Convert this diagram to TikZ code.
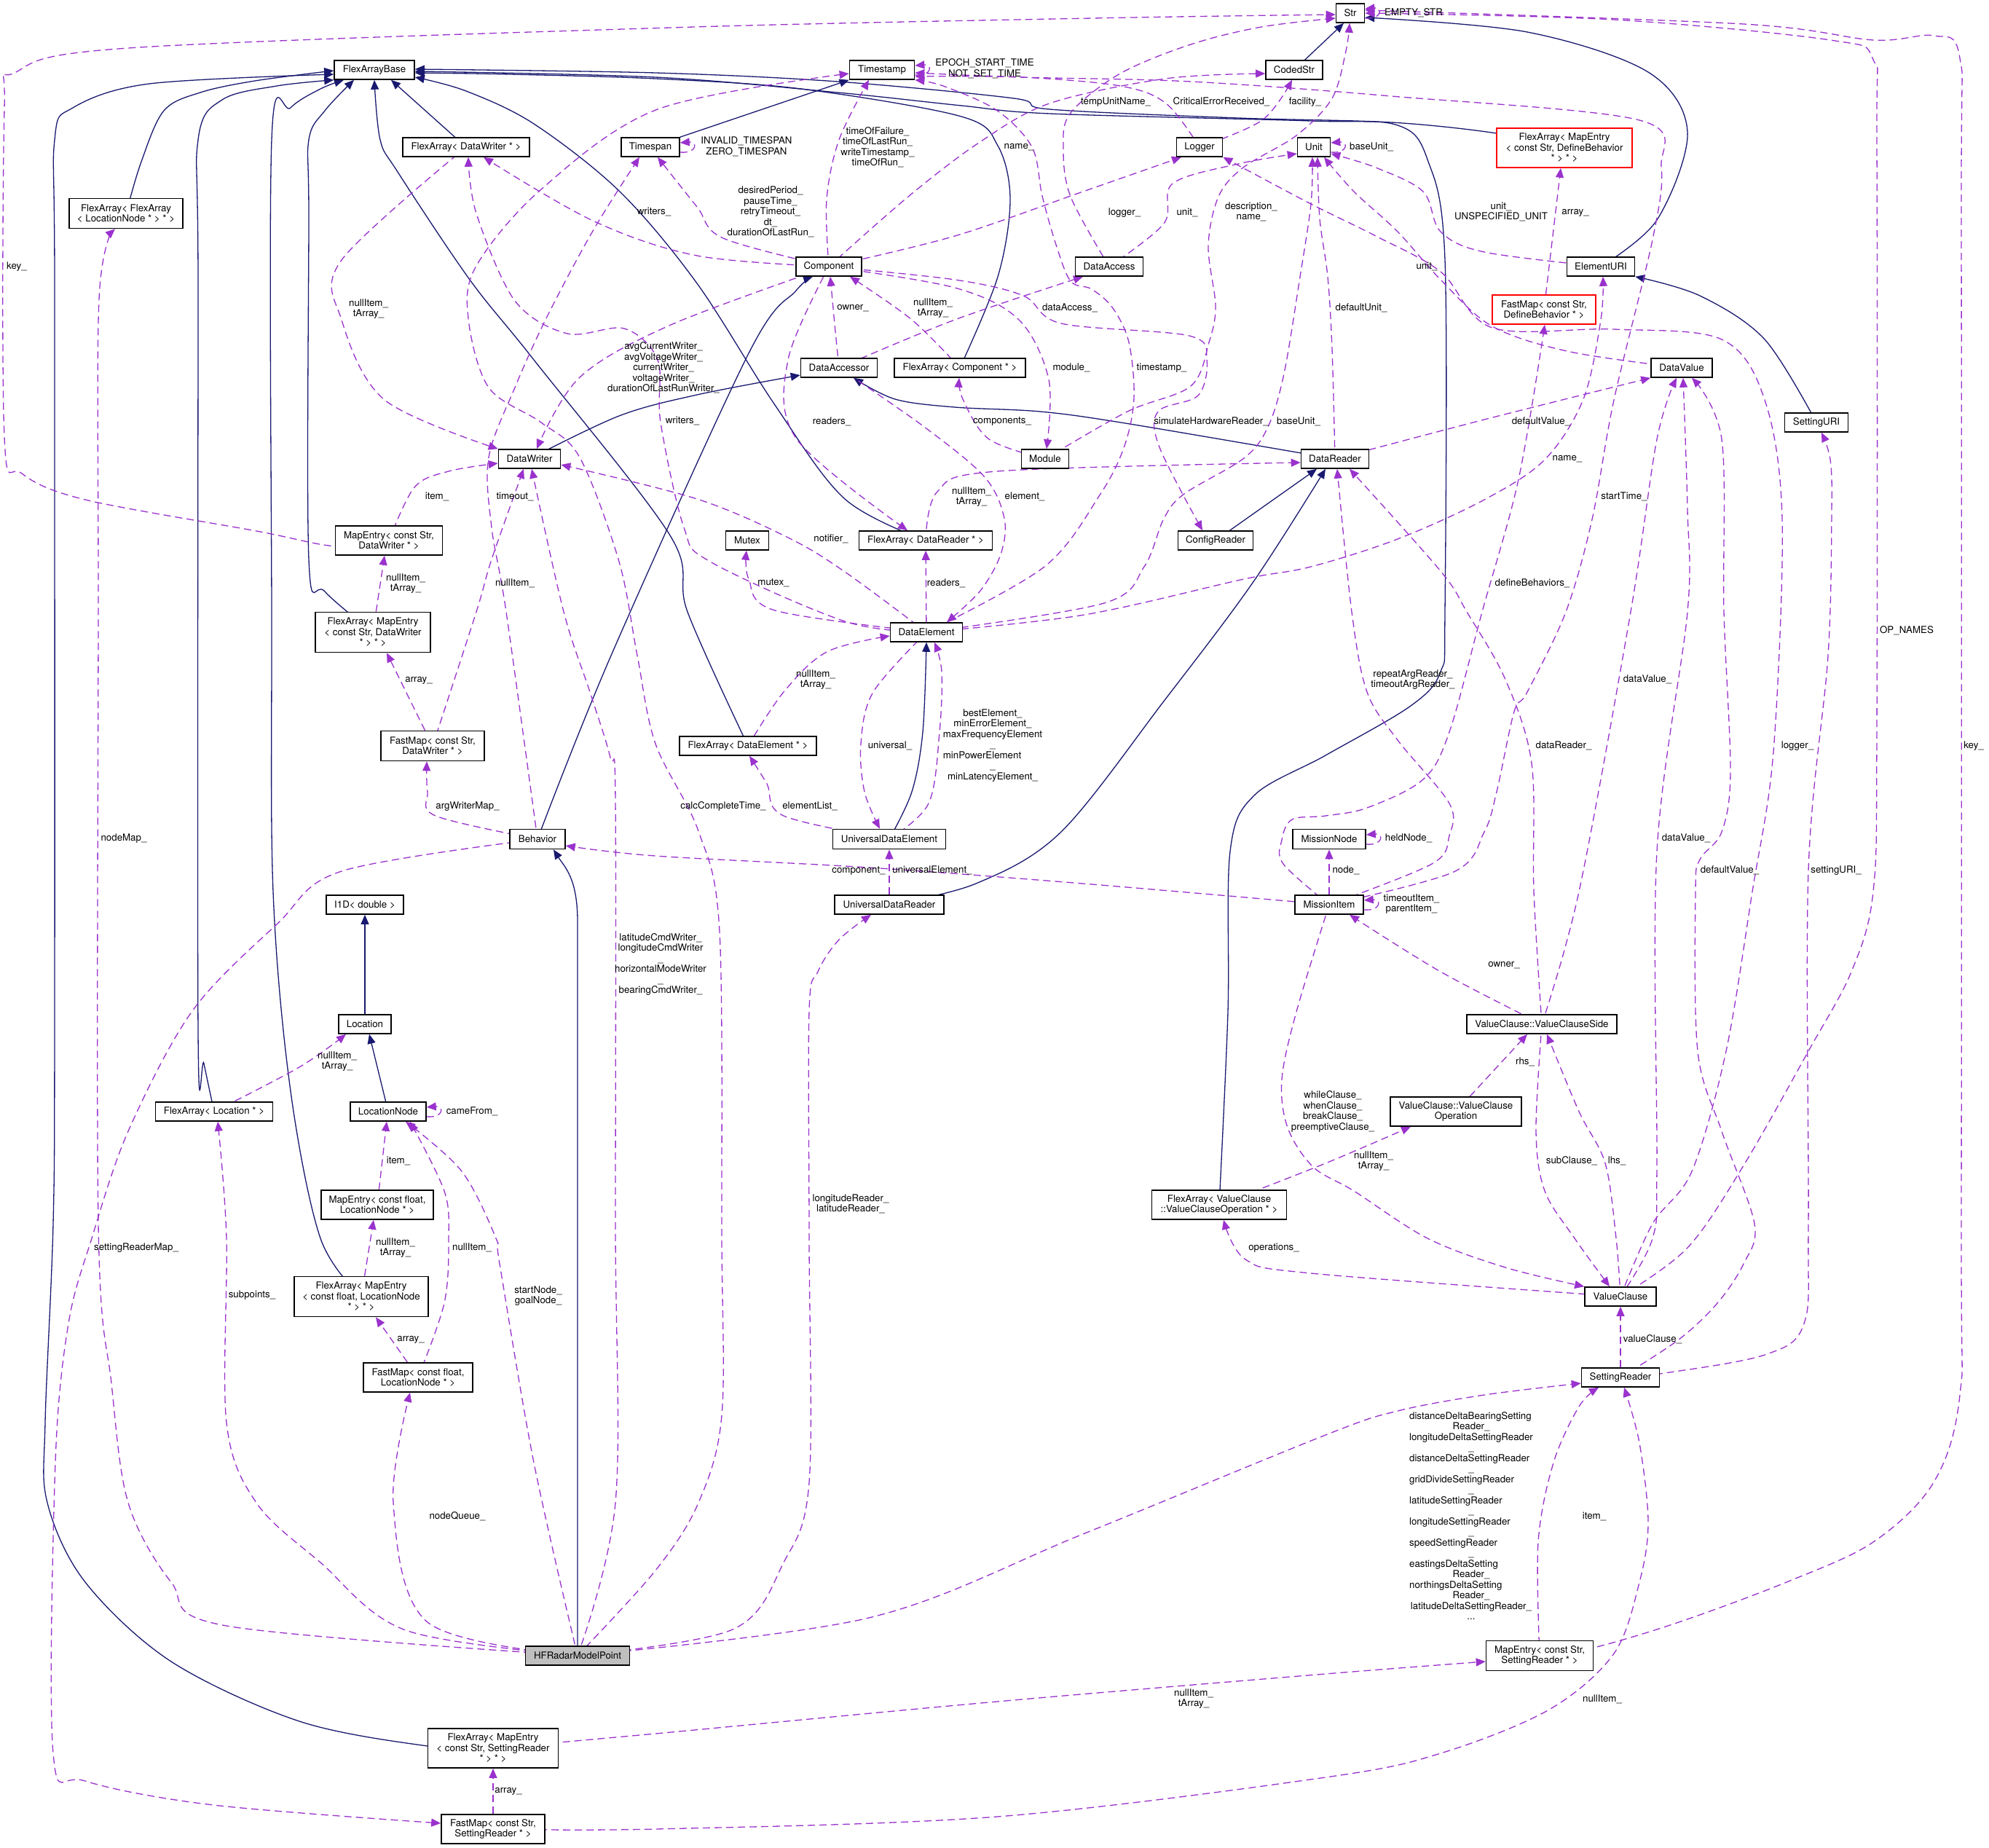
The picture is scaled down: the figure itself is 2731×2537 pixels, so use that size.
\documentclass[tikz,border=0pt]{standalone}
\usepackage{fontspec}
\setmainfont{TeX Gyre Heros}
\usetikzlibrary{arrows.meta}
\pgfdeclarelayer{background}
\pgfsetlayers{background,main}
\definecolor{edgeblue}{HTML}{191970}
\definecolor{edgepurple}{HTML}{9A32CD}
\definecolor{boxgray}{HTML}{BFBFBF}
\newcommand\nodefont{\fontsize{6.65pt}{7.25pt}\selectfont}
\newcommand\mybox[5]{\node[box,minimum width=#3*0.5pt,minimum height=#4*0.5pt] (#1) at (#2) {#5};}
\newcommand\lbl[3]{\node[lab] (#1) at (#2) {#3};}
\newcommand\pe[2]{\draw[#1] plot[smooth,tension=0.55] coordinates {#2};}
\newcommand\sloop[1]{\draw[use] ([yshift=-3.5pt]#1.east) .. controls +(12pt,-1pt) and +(12pt,1pt) .. ([yshift=3pt]#1.east);}
\begin{document}
\begin{tikzpicture}[x=0.5pt,y=-0.5pt,
 box/.style={draw=black,line width=0.8pt,fill=white,inner sep=0pt,align=center,font=\nodefont},
 lab/.style={inner sep=0pt,align=center,font=\nodefont},
 inh/.style={draw=edgeblue,line width=0.65pt,-{Triangle[length=6.5pt,width=5.5pt]}},
 use/.style={draw=edgepurple,line width=0.65pt,dash pattern=on 5pt off 3pt,-{Triangle[length=6.5pt,width=5.5pt]}}]
\useasboundingbox (0,0) rectangle (2731,2537);

% ---------- class boxes ----------
\mybox{str}{1854,18}{39}{26}{Str}
\mybox{fab}{514,96}{110}{26}{FlexArrayBase}
\mybox{tstamp}{1211,96}{89}{26}{Timestamp}
\mybox{codedstr}{1777,96}{78}{26}{CodedStr}
\mybox{fadw}{640,202}{174}{26}{FlexArray< DataWriter * >}
\mybox{tspan}{893,202}{80}{26}{Timespan}
\mybox{logger}{1647,202}{63}{26}{Logger}
\mybox{unit}{1804,202}{45}{26}{Unit}
\node[box,draw=red,minimum width=186*0.5pt,minimum height=54*0.5pt] (fadb) at (2148,203) {FlexArray< MapEntry\\< const Str, DefineBehavior\\ * > * >};
\mybox{faflf}{173,293}{156}{41}{FlexArray< FlexArray\\< LocationNode * > * >}
\mybox{comp}{1138,366}{90}{26}{Component}
\mybox{daccess}{1523,366}{93}{26}{DataAccess}
\mybox{euri}{2198,366}{93}{26}{ElementURI}
\node[box,draw=red,minimum width=142*0.5pt,minimum height=40*0.5pt] (fmdb) at (2120,425) {FastMap< const Str,\\ DefineBehavior * >};
\mybox{daccessor}{1152,505}{105}{26}{DataAccessor}
\mybox{facomp}{1318,505}{180}{26}{FlexArray< Component * >}
\mybox{dvalue}{2309,505}{84}{26}{DataValue}
\mybox{suri}{2494,580}{87}{26}{SettingURI}
\mybox{dwriter}{727,630}{85}{26}{DataWriter}
\mybox{module}{1435,630}{65}{26}{Module}
\mybox{dreader}{1833,630}{93}{26}{DataReader}
\mybox{medw}{534,742}{147}{40}{MapEntry< const Str,\\ DataWriter * >}
\mybox{mutex}{1026,742}{59}{26}{Mutex}
\mybox{fadr}{1271,742}{183}{26}{FlexArray< DataReader * >}
\mybox{creader}{1669,742}{103}{26}{ConfigReader}
\mybox{famedw}{512,868}{158}{55}{FlexArray< MapEntry\\< const Str, DataWriter\\ * > * >}
\mybox{delem}{1272,868}{99}{26}{DataElement}
\mybox{fmdw}{594,1024}{142}{41}{FastMap< const Str,\\ DataWriter * >}
\mybox{fade}{1027,1024}{188}{26}{FlexArray< DataElement * >}
\mybox{behavior}{738,1152}{76}{27}{Behavior}
\mybox{ude}{1221,1152}{155}{27}{UniversalDataElement}
\mybox{mnode}{1825,1152}{100}{27}{MissionNode}
\mybox{i1d}{501,1242}{106}{26}{I1D< double >}
\mybox{udr}{1221,1242}{150}{26}{UniversalDataReader}
\mybox{mitem}{1825,1242}{94}{26}{MissionItem}
\mybox{location}{501,1406}{72}{26}{Location}
\mybox{vcs}{2117,1406}{206}{26}{ValueClause::ValueClauseSide}
\mybox{faloc}{294,1526}{161}{26}{FlexArray< Location * >}
\mybox{lnode}{533,1526}{104}{26}{LocationNode}
\mybox{vco}{1999,1526}{180}{40}{ValueClause::ValueClause\\Operation}
\mybox{melf}{518,1654}{154}{40}{MapEntry< const float,\\ LocationNode * >}
\mybox{favco}{1674,1654}{185}{40}{FlexArray< ValueClause\\::ValueClauseOperation * >}
\mybox{famelf}{496,1780}{184}{55}{FlexArray< MapEntry\\< const float, LocationNode\\ * > * >}
\mybox{vclause}{2225,1780}{98}{26}{ValueClause}
\mybox{fmflf}{574,1891}{150}{40}{FastMap< const float,\\ LocationNode * >}
\mybox{sreader}{2225,1891}{107}{26}{SettingReader}
\node[box,fill=boxgray,minimum width=143*0.5pt,minimum height=26*0.5pt] (hfr) at (793,2273) {HFRadarModelPoint};
\mybox{mesr}{2114,2273}{147}{41}{MapEntry< const Str,\\ SettingReader * >}
\mybox{famesr}{677,2400}{179}{54}{FlexArray< MapEntry\\< const Str, SettingReader\\ * > * >}
\mybox{fmsr}{677,2511}{142}{40}{FastMap< const Str,\\ SettingReader * >}

\begin{pgfonlayer}{background}
\fill[white] (0,0) rectangle (2731,2537);
% ---------- inheritance edges ----------
\pe{inh}{(faflf) (194,222) (225,152) (275,127) (350,111) (fab.west |- 0,97)}
\pe{inh}{(famesr) (587,2397) (411,2363) (235,2281) (117,2172) (65,2063) (62,1953) (73,1680) (75,1400) (75,400) (75,192) (100,148) (205,115) (fab.west |- 0,102)}
\pe{inh}{(faloc) (280,1460) (272,1416) (272,400) (272,192) (305,137) (380,118) (fab.south west)}
\pe{inh}{(famelf) (440,1700) (399,1498) (375,1224) (373,840) (373,192) (399,148) (440,122) (fab.south -| 472,0)}
\pe{inh}{(famedw) (446,812) (424,768) (424,300) (424,192) (446,152) (fab.south -| 486,0)}
\pe{inh}{(fade) (944,840) (920,735) (733,494) (645,384) (546,236) (522,192) (fab.south -| 514,0)}
\draw[inh] (fadw) -- (fab.south -| 537,0);
\pe{inh}{(fadr) (1160,685) (1064,556) (957,389) (851,263) (733,170) (640,125) (fab.east |- 0,106)}
\pe{inh}{(facomp) (1370,380) (1387,274) (1370,200) (1320,160) (1100,122) (900,108) (700,102) (fab.east |- 0,100)}
\pe{inh}{(fadb) (2055,183) (1910,168) (1700,162) (1441,150) (1392,135) (1150,112) (900,100) (fab.east |- 0,95)}
\pe{inh}{(favco) (1686,1389) (1689,1169) (1722,1092) (1820,1037) (1937,969) (1978,922) (1984,840) (1984,357) (1960,219) (1919,172) (1800,166) (1441,156) (1320,145) (1150,127) (900,106) (fab.east |- 0,98)}
\draw[inh] (tspan) -- (tstamp.south west);
\draw[inh] (codedstr) -- (str.south -| 1845,0);
\pe{inh}{(euri) (2275,302) (2317,181) (2263,99) (2097,44) (str.east |- 0,24)}
\pe{inh}{(suri) (2423,466) (2334,406) (euri.south east)}
\pe{inh}{(dwriter) (850,571) (957,542) (daccessor.west |- 0,515)}
\pe{inh}{(dreader) (1545,581) (1428,565) (1311,559) (1229,548) (daccessor.south -| 1172,0)}
\pe{inh}{(behavior) (839,900) (1028,485) (1093,399) (comp.south -| 1116,0)}
\pe{inh}{(ude) (1252,1087) (1267,1005) (delem.south -| 1272,0)}
\pe{inh}{(udr) (1340,1213) (1457,1142) (1600,960) (1720,800) (dreader.south -| 1820,0)}
\draw[inh] (creader) -- (dreader.south -| 1808,0);
\draw[inh] (location) -- (i1d);
\draw[inh] (lnode) -- (location.south -| 507,0);
\draw[inh] (hfr.north -| 793,0) -- (793,1265) .. controls (793,1205) and (775,1190) .. (behavior.south -| 760,0);

% ---------- usage edges ----------
\pe{use}{(medw) (461,750) (352,729) (117,686) (30,650) (6,600) (6,150) (20,100) (176,66) (920,38) (1500,25) (str.west |- 0,20)}
\pe{use}{(comp) (957,351) (814,303) (fadw.south -| 664,0)}
\pe{use}{(comp) (993,327) (957,284) (tspan.south -| 903,0)}
\pe{use}{(comp) (921,446) (796,518) (dwriter.north -| 737,0)}
\pe{use}{(comp) (1135,274) (1152,192) (tstamp.south -| 1193,0)}
\pe{use}{(comp) (1247,270) (1344,196) (1441,142) (1600,108) (codedstr.west |- 0,101)}
\pe{use}{(comp) (1311,324) (1487,263) (logger.south -| 1622,0)}
\pe{use}{(comp) (1311,395) (1399,439) (1440,521) (module.north -| 1437,0)}
\pe{use}{(comp) (1311,384) (1405,406) (1457,444) (1633,461) (1657,494) (1645,543) (1590,565) (1592,614) (creader.north -| 1651,0)}
\pe{use}{(comp) (1082,494) (1094,603) (fadr.north -| 1246,0)}
\pe{use}{(daccessor) (1146,445) (comp.south -| 1140,0)}
\pe{use}{(facomp) (1252,439) (comp.south -| 1167,0)}
\pe{use}{(daccessor) (1311,439) (daccess.south -| 1487,0)}
\pe{use}{(module) (1358,603) (1322,548) (facomp.south -| 1317,0)}
\pe{use}{(module) (1548,565) (1635,530) (1660,470) (1669,420) (1659,338) (1673,270) (1707,230) (1780,186) (1829,135) (1848,70) (str.south -| 1853,0)}
\pe{use}{(daccess) (1470,270) (1460,203) (1470,155) (1538,101) (1635,61) (1732,37) (str.west |- 0,25)}
\pe{use}{(daccess) (1598,307) (1610,252) (1700,225) (unit.west |- 0,211)}
\pe{use}{(logger) (1601,142) (1538,118) (1402,106) (tstamp.east |- 0,105)}
\pe{use}{(logger) (1733,165) (codedstr.south -| 1774,0)}
\pe{use}{(delem) (1434,778) (1511,678) (1544,612) (1557,546) (1550,470) (1528,423) (1499,397) (1470,386) (1450,336) (1431,269) (1417,202) (1368,151) (1295,118) (tstamp.south east)}
\pe{use}{(delem) (1516,828) (1571,778) (1598,712) (1626,678) (1708,629) (1741,586) (1763,513) (1785,380) (1800,280) (unit.south -| 1802,0)}
\pe{use}{(dreader) (1829,479) (1823,380) (1812,300) (unit.south -| 1809,0)}
\pe{use}{(dvalue) (2156,483) (2049,448) (1978,384) (1919,318) (1859,263) (unit.south -| 1818,0)}
\pe{use}{(euri) (2038,346) (1978,318) (1954,263) (1889,230) (unit.east |- 0,211)}
\pe{use}{(dreader) (2038,576) (dvalue.south west)}
\draw[use] (fmdb) -- (fadb.south -| 2143,0);
\pe{use}{(vclause) (2269,1680) (2323,1608) (2370,1443) (2406,1224) (2435,1032) (2447,713) (2423,549) (2364,466) (2216,452) (2049,450) (1978,373) (1889,324) (1800,280) (logger.south east)}
\pe{use}{(vclause) (2317,1713) (2394,1600) (2483,1443) (2542,1334) (2572,1224) (2577,1000) (2577,200) (2572,82) (2513,55) (2216,27) (str.east |- 0,18)}
\pe{use}{(mesr) (2188,2262) (2305,2227) (2453,2172) (2572,2117) (2655,2035) (2691,1915) (2693,1680) (2693,300) (2691,80) (2655,49) (2572,55) (2394,33) (str.east |- 0,14)}
\pe{use}{(sreader) (2279,1886) (2423,1860) (2477,1817) (2483,1680) (2483,1195) (2510,900) (2515,700) (2513,631) (suri.south -| 2501,0)}
\pe{use}{(sreader) (2305,1839) (2358,1789) (2394,1735) (2409,1680) (2364,1553) (2331,1443) (2328,1224) (2334,1180) (2364,1142) (2376,1059) (2367,840) (2364,603) (dvalue.south -| 2323,0)}
\pe{use}{(vclause) (2269,1700) (2275,1600) (2275,1169) (2317,840) (2317,700) (dvalue.south -| 2311,0)}
\pe{use}{(vcs) (2168,1224) (2239,840) (2275,603) (dvalue.south -| 2302,0)}
\pe{use}{(vcs) (2106,1224) (2103,1048) (2067,933) (2014,840) (1978,784) (dreader.south -| 1853,0)}
\pe{use}{(vcs) (1978,1334) (mitem.south -| 1853,0)}
\pe{use}{(mitem) (1966,1186) (1990,1147) (1990,1103) (1919,1016) (1877,950) (1856,840) (dreader.south -| 1836,0)}
\pe{use}{(mitem) (1996,1197) (2038,1142) (2055,1087) (2079,977) (2097,950) (2150,840) (2186,713) (2216,549) (2269,329) (2281,230) (2251,165) (1910,132) (1635,112) (1402,106) (tstamp.east |- 0,100)}
\pe{use}{(mitem) (1762,1186) (1760,1153) (1774,1125) (1820,1120) (1877,1109) (1954,1070) (1990,1005) (2035,840) (2085,658) (fmdb.south -| 2121,0)}
\pe{use}{(delem) (1489,844) (1708,795) (1800,778) (1919,740) (2038,686) (2121,631) (2174,548) (2198,439) (euri.south -| 2201,0)}
\pe{use}{(mitem) (1780,1389) (1760,1482) (1768,1548) (1803,1602) (1859,1635) (1960,1700) (2067,1740) (vclause.north west)}
\pe{use}{(favco) (1820,1597) (vco.south -| 1937,0)}
\draw[use] (vco) -- (vcs.south -| 2097,0);
\pe{use}{(vclause) (2219,1700) (2204,1597) (2168,1526) (vcs.south -| 2124,0)}
\pe{use}{(vcs) (2109,1553) (2121,1635) (2162,1700) (vclause.north -| 2210,0)}
\pe{use}{(vclause) (1800,1748) (1710,1729) (favco.south -| 1680,0)}
\draw[use] (mitem) -- (mnode);
\pe{use}{(mitem) (1487,1213) (1193,1191) (900,1175) (behavior.east |- 0,1161)}
\draw[use] (udr) -- (ude);
\pe{use}{(ude) (1076,1120) (1053,1076) (fade.south -| 1029,0)}
\pe{use}{(delem) (1199,950) (1182,1021) (1187,1087) (ude.north -| 1208,0)}
\pe{use}{(ude) (1275,1103) (1290,1005) (1293,922) (delem.south -| 1283,0)}
\pe{use}{(fade) (1076,950) (1135,895) (delem.west |- 0,873)}
\draw[use] (delem) -- (fadr);
\pe{use}{(delem) (1064,838) (1028,795) (mutex.south -| 1025,0)}
\pe{use}{(delem) (1160,785) (1082,738) (957,685) (dwriter.east |- 0,638)}
\pe{use}{(delem) (1160,853) (975,771) (939,724) (907,580) (903,494) (857,451) (779,458) (707,413) (654,293) (fadw.south -| 643,0)}
\pe{use}{(daccessor) (1269,586) (1352,655) (1379,712) (1374,761) (1346,811) (delem.north -| 1300,0)}
\pe{use}{(fadr) (1287,675) (1369,647) (dreader.west |- 0,635)}
\pe{use}{(fadw) (469,357) (469,439) (528,549) (dwriter.north west)}
\pe{use}{(medw) (569,669) (616,647) (dwriter.west |- 0,636)}
\pe{use}{(fmdw) (654,840) (675,768) (dwriter.south -| 719,0)}
\pe{use}{(hfr) (845,2063) (845,1680) (845,1100) (838,1040) (810,950) (774,840) (dwriter.south -| 730,0)}
\pe{use}{(behavior) (695,840) (675,724) (671,628) (707,532) (750,437) (814,317) (tspan.south -| 878,0)}
\pe{use}{(behavior) (598,1120) (587,1087) (fmdw.south -| 586,0)}
\pe{use}{(behavior) (469,1196) (381,1268) (264,1388) (176,1553) (126,1700) (94,1817) (76,2008) (73,2407) (117,2445) (293,2478) (fmsr.west |- 0,2503)}
\draw[use] (fmdw) -- (famedw.south -| 531,0);
\draw[use] (famedw) -- (medw.south -| 528,0);
\pe{use}{(faloc) (411,1465) (location.south -| 475,0)}
\draw[use] (melf) -- (lnode.south -| 531,0);
\draw[use] (famelf) -- (melf.south -| 513,0);
\draw[use] (fmflf) -- (famelf.south -| 516,0);
\pe{use}{(fmflf) (610,1789) (616,1700) (610,1635) (lnode.south -| 563,0)}
\pe{use}{(hfr) (733,2008) (686,1735) (681,1700) (634,1608) (lnode.south -| 557,0)}
\pe{use}{(hfr) (587,2227) (540,2063) (fmflf.south -| 563,0)}
\pe{use}{(hfr) (557,2238) (440,2145) (352,2063) (311,1953) (311,1700) (faloc.south -| 299,0)}
\pe{use}{(hfr) (311,2232) (235,2172) (176,2063) (153,1899) (135,1680) (135,840) (136,411) (faflf.south -| 158,0)}
\pe{use}{(hfr) (900,2156) (959,2063) (991,1943) (991,1700) (988,1279) (959,1141) (900,1021) (875,900) (850,771) (796,628) (743,580) (671,532) (643,437) (654,365) (743,260) (903,150) (tstamp.west |- 0,101)}
\pe{use}{(hfr) (1006,2237) (1076,2145) (1111,2035) (1111,1700) (1111,1388) (1123,1334) (1152,1290) (udr.south -| 1196,0)}
\pe{use}{(hfr) (1193,2221) (1487,2106) (1820,1970) (1919,1937) (2038,1915) (sreader.west |- 0,1899)}
\pe{use}{(famesr) (900,2380) (1369,2336) (1820,2298) (mesr.west |- 0,2281)}
\draw[use] (fmsr) -- (famesr);
\pe{use}{(fmsr) (900,2511) (1369,2494) (1820,2440) (1978,2407) (2127,2347) (2216,2270) (2251,2172) (2263,2090) (2251,1981) (sreader.south -| 2230,0)}
\pe{use}{(mesr) (2112,2117) (2133,2008) (2168,1931) (sreader.south -| 2195,0)}
\draw[use] (sreader) -- (vclause);

% self loops
\sloop{str}
\sloop{tstamp}
\sloop{tspan}
\sloop{unit}
\sloop{lnode}
\sloop{mnode}
\sloop{mitem}
\end{pgfonlayer}

% ---------- labels ----------
\lbl{lEmpty}{1941,18}{EMPTY\_STR}
\lbl{lEpoch}{1352,94}{EPOCH\_START\_TIME\\NOT\_SET\_TIME}
\lbl{lInv}{1025,201}{INVALID\_TIMESPAN\\ZERO\_TIMESPAN}
\lbl{lBu}{1883,202}{baseUnit\_}
\lbl{lCf}{648,1526}{cameFrom\_}
\lbl{lHn}{1934,1151}{heldNode\_}
\lbl{lTi}{1938,1241}{timeoutItem\_\\parentItem\_}
\lbl{lKey1}{23,366}{key\_}
\lbl{lFadwNull}{506,424}{nullItem\_\\tArray\_}
\lbl{lWriters1}{898,291}{writers\_}
\lbl{lItem1}{600,682}{item\_}
\lbl{lTimeout}{707,682}{timeout\_}
\lbl{lNull1}{707,801}{nullItem\_}
\lbl{lMedwNull}{557,801}{nullItem\_\\tArray\_}
\lbl{lAvg}{911,505}{avgCurrentWriter\_\\avgVoltageWriter\_\\currentWriter\_\\voltageWriter\_\\durationOfLastRunWriter\_}
\lbl{lWriters2}{937,578}{writers\_}
\lbl{lNotifier}{1141,740}{notifier\_}
\lbl{lMutex}{1062,800}{mutex\_}
\lbl{lDesired}{1058,291}{desiredPeriod\_\\pauseTime\_\\retryTimeout\_\\dt\_\\durationOfLastRun\_}
\lbl{lTimeOf}{1205,202}{timeOfFailure\_\\timeOfLastRun\_\\writeTimestamp\_\\timeOfRun\_}
\lbl{lName1}{1399,202}{name\_}
\lbl{lTemp}{1532,140}{tempUnitName\_}
\lbl{lCrit}{1677,140}{CriticalErrorReceived\_}
\lbl{lFac}{1792,140}{facility\_}
\lbl{lLogger1}{1544,292}{logger\_}
\lbl{lUnit1}{1630,292}{unit\_}
\lbl{lDesc}{1718,291}{description\_\\name\_}
\lbl{lOwner1}{1171,423}{owner\_}
\lbl{lFcNull}{1281,423}{nullItem\_\\tArray\_}
\lbl{lDa}{1469,423}{dataAccess\_}
\lbl{lModule}{1471,505}{module\_}
\lbl{lTs}{1595,505}{timestamp\_}
\lbl{lReaders1}{1142,579}{readers\_}
\lbl{lComps}{1376,579}{components\_}
\lbl{lSim}{1663,579}{simulateHardwareReader\_}
\lbl{lBu2}{1783,579}{baseUnit\_}
\lbl{lFrNull}{1334,682}{nullItem\_\\tArray\_}
\lbl{lElem}{1407,682}{element\_}
\lbl{lReaders2}{1299,801}{readers\_}
\lbl{lUu}{2061,291}{unit\_\\UNSPECIFIED\_UNIT}
\lbl{lArray1}{2163,292}{array\_}
\lbl{lUnit2}{1959,366}{unit\_}
\lbl{lDu}{1869,423}{defaultUnit\_}
\lbl{lDv1}{2116,579}{defaultValue\_}
\lbl{lName2}{2152,630}{name\_}
\lbl{lSt}{2230,682}{startTime\_}
\lbl{lDb}{2104,801}{defineBehaviors\_}
\lbl{lOp}{2618,866}{OP\_NAMES}
\lbl{lRep}{1940,933}{repeatArgReader\_\\timeoutArgReader\_}
\lbl{lDval1}{2262,933}{dataValue\_}
\lbl{lDr}{2147,1024}{dataReader\_}
\lbl{lLogger2}{2468,1024}{logger\_}
\lbl{lKey2}{2710,1024}{key\_}
\lbl{lDval2}{2315,1151}{dataValue\_}
\lbl{lNode}{1848,1195}{node\_}
\lbl{lDv2}{2375,1195}{defaultValue\_}
\lbl{lSuri}{2521,1195}{settingURI\_}
\lbl{lOwner2}{2065,1325}{owner\_}
\lbl{lRhs}{2094,1458}{rhs\_}
\lbl{lWhile}{1830,1526}{whileClause\_\\whenClause\_\\breakClause\_\\preemptiveClause\_}
\lbl{lVcoNull}{1886,1594}{nullItem\_\\tArray\_}
\lbl{lSub}{2158,1594}{subClause\_}
\lbl{lLhs}{2220,1594}{lhs\_}
\lbl{lFdNull}{1120,933}{nullItem\_\\tArray\_}
\lbl{lUniv}{1222,1024}{universal\_}
\lbl{lBest}{1363,1024}{\begin{tabular}{@{}c@{}}bestElement\_\\minErrorElement\_\\maxFrequencyElement\\\_\\\multicolumn{1}{@{}l@{}}{minPowerElement}\\\_\\minLatencyElement\_\end{tabular}}
\lbl{lCalc}{993,1107}{calcCompleteTime\_}
\lbl{lEl}{1112,1107}{elementList\_}
\lbl{lComp}{1179,1195}{component\_}
\lbl{lUe}{1280,1195}{universalElement\_}
\lbl{lLr}{1168,1653}{longitudeReader\_\\latitudeReader\_}
\lbl{lArray2}{575,934}{array\_}
\lbl{lAwm}{642,1107}{argWriterMap\_}
\lbl{lNm}{170,1151}{nodeMap\_}
\lbl{lLat}{907,1324}{latitudeCmdWriter\_\\longitudeCmdWriter\\\_\\horizontalModeWriter\\\_\\bearingCmdWriter\_}
\lbl{lLocNull}{463,1457}{nullItem\_\\tArray\_}
\lbl{lItem2}{547,1594}{item\_}
\lbl{lSrm}{187,1713}{settingReaderMap\_}
\lbl{lFlNull}{543,1713}{nullItem\_\\tArray\_}
\lbl{lNull2}{648,1713}{nullItem\_}
\lbl{lSubp}{346,1778}{subpoints\_}
\lbl{lSg}{739,1779}{startNode\_\\goalNode\_}
\lbl{lArray3}{564,1839}{array\_}
\lbl{lNq}{628,2082}{nodeQueue\_}
\lbl{lArray4}{698,2459}{array\_}
\lbl{lOps}{1749,1713}{operations\_}
\lbl{lMsNull}{1639,2332}{nullItem\_\\tArray\_}
\lbl{lVc}{2269,1839}{valueClause\_}
\lbl{lDist}{2020,2083}{\begin{tabular}{@{}l@{}}distanceDeltaBearingSetting\\\multicolumn{1}{@{}c@{}}{Reader\_}\\longitudeDeltaSettingReader\\\multicolumn{1}{@{}c@{}}{\_}\\distanceDeltaSettingReader\\\multicolumn{1}{@{}c@{}}{\_}\\gridDivideSettingReader\\\multicolumn{1}{@{}c@{}}{\_}\\latitudeSettingReader\\\multicolumn{1}{@{}c@{}}{\_}\\longitudeSettingReader\\\multicolumn{1}{@{}c@{}}{\_}\\speedSettingReader\\\multicolumn{1}{@{}c@{}}{\_}\\eastingsDeltaSetting\\\multicolumn{1}{@{}c@{}}{Reader\_}\\northingsDeltaSetting\\\multicolumn{1}{@{}c@{}}{Reader\_}\\\multicolumn{1}{@{}c@{}}{latitudeDeltaSettingReader\_}\\\multicolumn{1}{@{}c@{}}{...}\end{tabular}}
\lbl{lItem3}{2189,2082}{item\_}
\lbl{lNull3}{2200,2333}{nullItem\_}
\end{tikzpicture}
\end{document}
